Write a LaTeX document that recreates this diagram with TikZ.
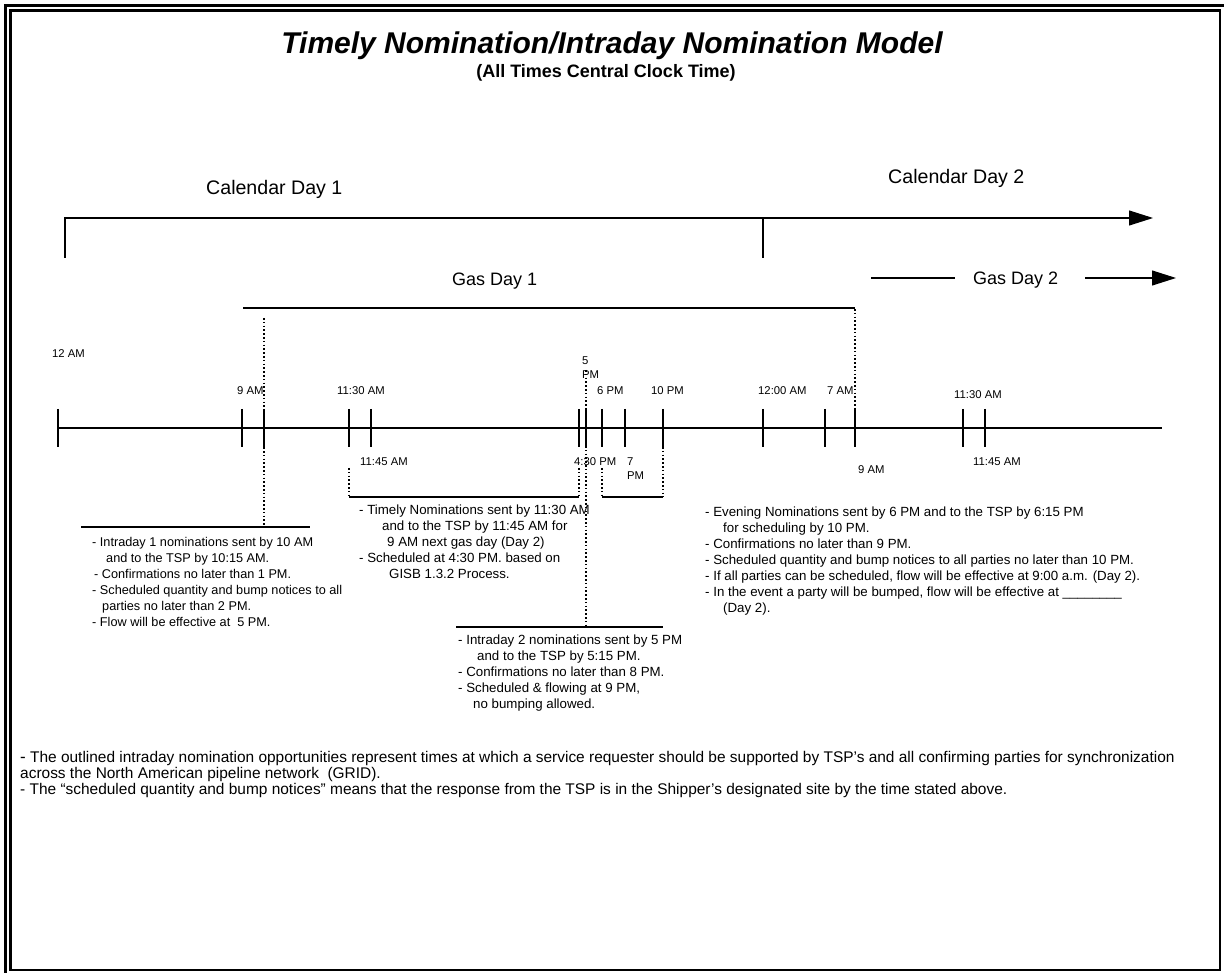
\documentclass[tikz,border=0pt]{standalone}
\usepackage{fontspec}
\setmainfont{Liberation Sans}
\usetikzlibrary{arrows.meta}
\begin{document}
\begin{tikzpicture}[x=1pt,y=-1pt,
  frameline/.style={line width=2.5pt},
  calline/.style={line width=1.1pt},
  tickmark/.style={line width=1.3pt},
  boxline/.style={line width=1.5pt},
  dots/.style={line width=1.6pt, dash pattern=on 1.6pt off 2.2pt},
  bigtip/.style={-{Triangle[length=24pt,width=15pt]}},
  lbl/.style={font=\fontsize{11.3}{13}\selectfont, inner sep=0pt, anchor=base west},
  head/.style={inner sep=0pt, anchor=base west},
  body/.style={font=\fontsize{13.3}{16}\selectfont, inner sep=0pt, anchor=north west, align=left}]
\useasboundingbox (0,0) rectangle (1224,973);
\fill[white] (0,0) rectangle (1224,973);
% frame
\draw[frameline] (5.5,5.5) rectangle (1226,976);
\draw[frameline] (10.5,10.5) rectangle (1220,970);
% title
\node[inner sep=0pt, anchor=base, font=\fontsize{30}{34}\selectfont\bfseries\itshape] (title) at (612,54) {Timely Nomination/Intraday Nomination Model};
\node[inner sep=0pt, anchor=base, font=\fontsize{18}{20}\selectfont\bfseries] (subtitle) at (606,78) {(All Times Central Clock Time)};
% calendar days
\node[head, font=\fontsize{19.6}{22}\selectfont] (cal1) at (206,195) {Calendar Day 1};
\node[head, font=\fontsize{19.6}{22}\selectfont] (cal2) at (888,184) {Calendar Day 2};
\draw[calline, bigtip] (65,258) -- (65,218) -- (1153,218);
\draw[calline] (763,218) -- (763,258);
% gas days
\node[head, font=\fontsize{18}{20}\selectfont] (gas1) at (452,286) {Gas Day 1};
\node[head, font=\fontsize{18}{20}\selectfont] (gas2) at (973,285) {Gas Day 2};
\draw[calline] (871,278) -- (955,278);
\draw[calline, bigtip] (1085,278) -- (1176,278);
\draw[calline] (243,308) -- (855,308);
% timeline
\draw[tickmark] (58,428) -- (1162,428);
\foreach \t in {58,242,264,349,371,579,586,602,625,663,763,825,855,963,985}
  \draw[tickmark] (\t,409) -- (\t,447);
% tick labels
\node[lbl] (l12am) at (52,358) {12 AM};
\node[lbl] (l9am) at (237,395) {9 AM};
\node[lbl] (l1130a) at (337,395) {11:30 AM};
\node[lbl] (l1145a) at (360,466) {11:45 AM};
\node[lbl] (l5) at (582,365) {5};
\node[lbl] (l5pm) at (582,379) {PM};
\node[lbl] (l6pm) at (597,395) {6 PM};
\node[lbl] (l10pm) at (651,395) {10 PM};
\node[lbl] (l430pm) at (574,466) {4:30 PM};
\node[lbl] (l7) at (627,465) {7};
\node[lbl] (l7pm) at (627,479) {PM};
\node[lbl] (l1200am) at (758,395) {12:00 AM};
\node[lbl] (l7am) at (827,395) {7 AM};
\node[lbl] (l1130b) at (954,399) {11:30 AM};
\node[lbl] (l9amb) at (858,474) {9 AM};
\node[lbl] (l1145b) at (973,466) {11:45 AM};
% dotted guides and brackets
\draw[dots] (264,318) -- (264,527);
\draw[dots] (855,309) -- (855,409);
\draw[dots] (349,468) -- (349,497);
\draw[dots] (579,468) -- (579,497);
\draw[boxline] (349,497) -- (579,497);
\draw[dots] (586,370) -- (586,627);
\draw[dots] (602,468) -- (602,497);
\draw[dots] (663,447) -- (663,497);
\draw[boxline] (602,497) -- (663,497);
\draw[boxline] (81,527) -- (310,527);
\draw[boxline] (456,627) -- (663,627);
% text blocks
\node[body, font=\fontsize{12.7}{16}\selectfont] (intra1) at (92,537) {- Intraday 1 nominations sent by 10 AM\\
\hspace*{14pt}and to the TSP by 10:15 AM.\\
\hspace*{2pt}- Confirmations no later than 1 PM.\\
- Scheduled quantity and bump notices to all\\
\hspace*{10pt}parties no later than 2 PM.\\
- Flow will be effective at \ 5 PM.};
\node[body] (timely) at (359,505) {- Timely Nominations sent by 11:30 AM\\
\hspace*{23pt}and to the TSP by 11:45 AM for\\
\hspace*{28pt}9 AM next gas day (Day 2)\\
- Scheduled at 4:30 PM. based on\\
\hspace*{30pt}GISB 1.3.2 Process.};
\node[body] (intra2) at (458,635) {- Intraday 2 nominations sent by 5 PM\\
\hspace*{19pt}and to the TSP by 5:15 PM.\\
- Confirmations no later than 8 PM.\\
- Scheduled \& flowing at 9 PM,\\
\hspace*{15pt}no bumping allowed.};
\node[body] (evening) at (705,507) {- Evening Nominations sent by 6 PM and to the TSP by 6:15 PM\\
\hspace*{18pt}for scheduling by 10 PM.\\
- Confirmations no later than 9 PM.\\
- Scheduled quantity and bump notices to all parties no later than 10 PM.\\
- If all parties can be scheduled, flow will be effective at 9:00 a.m. (Day 2).\\
- In the event a party will be bumped, flow will be effective at \_\_\_\_\_\_\_\_\\
\hspace*{18pt}(Day 2).};
\node[body, font=\fontsize{15.45}{16}\selectfont] (notes) at (20,751) {{\fontsize{17}{16}\selectfont -} The outlined intraday nomination opportunities represent times at which a service requester should be supported by TSP’s and all confirming parties for synchronization\\
across the North American pipeline network \ (GRID).\\
- The “scheduled quantity and bump notices” means that the response from the TSP is in the Shipper’s designated site by the time stated above.};
\end{tikzpicture}
\end{document}
